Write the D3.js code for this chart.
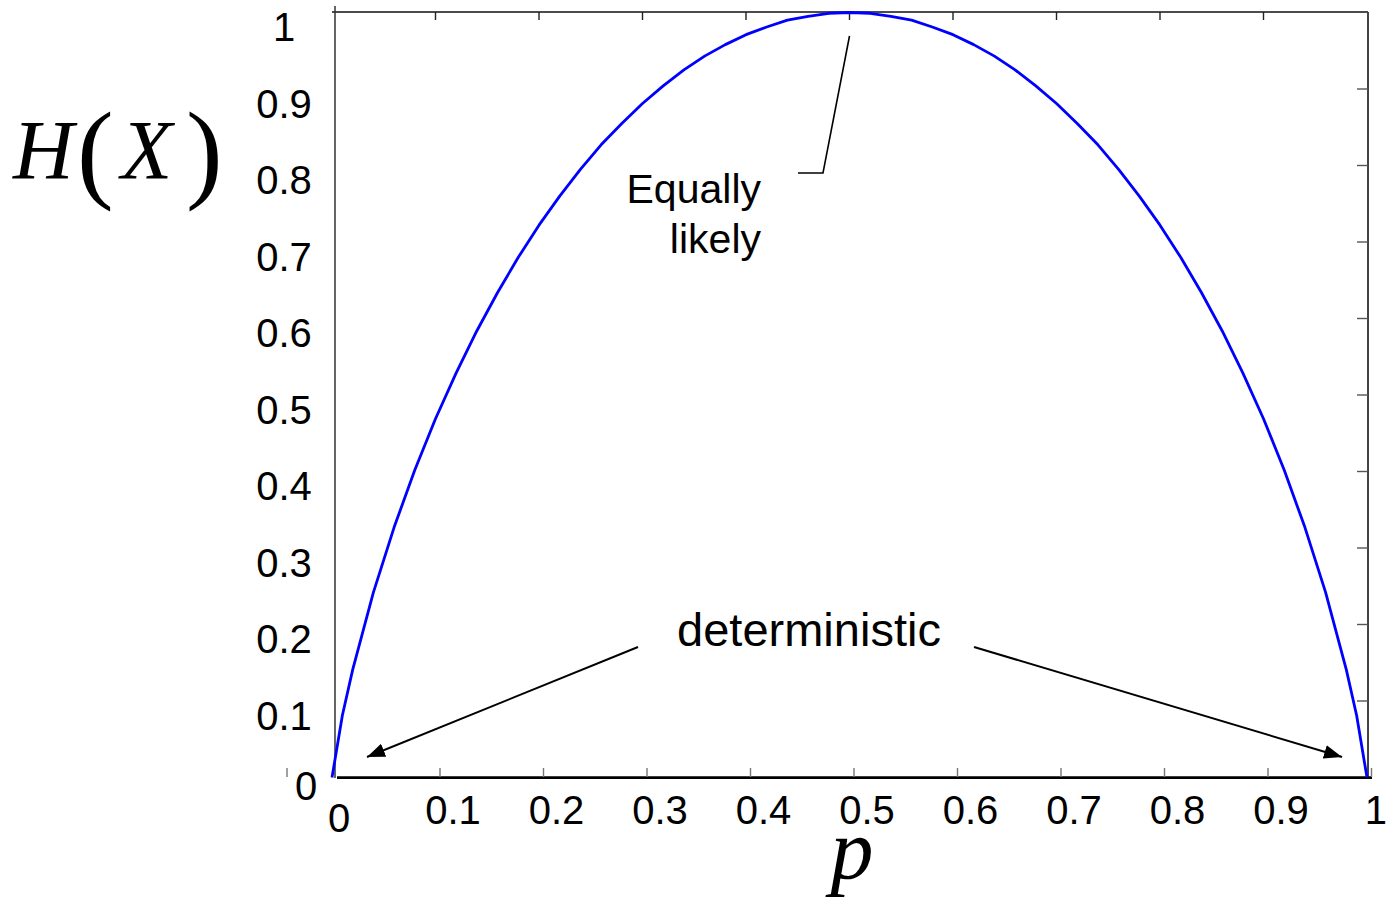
<!DOCTYPE html>
<html>
<head>
<meta charset="utf-8">
<script src="https://cdn.jsdelivr.net/npm/d3@7"></script>
<style>
  body { margin: 0; background: #fff; }
  svg { display: block; }
</style>
</head>
<body>
<script>
// values
var pValues = [0, 0.01, 0.02, 0.04, 0.06, 0.08, 0.10, 0.12, 0.14, 0.16, 0.18, 0.20,
  0.22, 0.24, 0.26, 0.28, 0.30, 0.32, 0.34, 0.36, 0.38, 0.40, 0.42, 0.44, 0.46, 0.48,
  0.50, 0.52, 0.54, 0.56, 0.58, 0.60, 0.62, 0.64, 0.66, 0.68, 0.70, 0.72, 0.74, 0.76,
  0.78, 0.80, 0.82, 0.84, 0.86, 0.88, 0.90, 0.92, 0.94, 0.96, 0.98, 0.99, 1];
var hValues = [0, 0.081, 0.141, 0.242, 0.327, 0.402, 0.469, 0.529, 0.584, 0.634, 0.680, 0.722,
  0.760, 0.795, 0.827, 0.855, 0.881, 0.904, 0.925, 0.943, 0.958, 0.971, 0.981, 0.990, 0.995, 0.999,
  1.000, 0.999, 0.995, 0.990, 0.981, 0.971, 0.958, 0.943, 0.925, 0.904, 0.881, 0.855, 0.827, 0.795,
  0.760, 0.722, 0.680, 0.634, 0.584, 0.529, 0.469, 0.402, 0.327, 0.242, 0.141, 0.081, 0];

var xTicks = [0, 0.1, 0.2, 0.3, 0.4, 0.5, 0.6, 0.7, 0.8, 0.9, 1];
var xTickLabels = ["0", "0.1", "0.2", "0.3", "0.4", "0.5", "0.6", "0.7", "0.8", "0.9", "1"];
var yTicks = [0, 0.1, 0.2, 0.3, 0.4, 0.5, 0.6, 0.7, 0.8, 0.9, 1];
var yTickLabels = ["0", "0.1", "0.2", "0.3", "0.4", "0.5", "0.6", "0.7", "0.8", "0.9", "1"];

var peakNote = ["Equally", "likely"];
var edgeNote = "deterministic";

//canvas
var width = 1387, height = 897;
var sans = "'Liberation Sans', Arial, sans-serif";
var serif = "'Liberation Serif', 'Times New Roman', serif";

var svg = d3.select("body").append("svg")
  .attr("width", width)
  .attr("height", height);

// scales (the frame is a little skewed in the original, so the bottom ticks sit a bit right)
var x = d3.scaleLinear().domain([0, 1]).range([332, 1367]);
var xBottom = d3.scaleLinear().domain([0, 1]).range([336.5, 1371.5]);
var y = d3.scaleLinear().domain([0, 1]).range([777.5, 12.5]);

var frame = svg.append("g");

// top border + ticks
frame.append("line")
  .attr("x1", 332).attr("x2", 1368).attr("y1", 12).attr("y2", 12)
  .style("stroke", "#111").style("stroke-width", 1.6);
frame.selectAll(".ttick")
  .data(xTicks.slice(1, -1))
  .enter().append("line")
  .attr("x1", d => x(d)).attr("x2", d => x(d))
  .attr("y1", 12).attr("y2", 20)
  .style("stroke", "#222").style("stroke-width", 1.4);

// left border
frame.append("line")
  .attr("x1", 335).attr("x2", 335).attr("y1", 6).attr("y2", 778)
  .style("stroke", "#333").style("stroke-width", 1.5);

// right border + ticks
frame.append("line")
  .attr("x1", 1368).attr("x2", 1368).attr("y1", 12).attr("y2", 778)
  .style("stroke", "#444").style("stroke-width", 2);
frame.selectAll(".rtick")
  .data(yTicks.slice(1, -1))
  .enter().append("line")
  .attr("x1", 1357).attr("x2", 1368)
  .attr("y1", d => y(d)).attr("y2", d => y(d))
  .style("stroke", "#555").style("stroke-width", 1.4);

// bottom axis
frame.append("line")
  .attr("x1", 337).attr("x2", 1372).attr("y1", 777.7).attr("y2", 777.7)
  .style("stroke", "#000").style("stroke-width", 2.8);
frame.selectAll(".btick")
  .data(xTicks.slice(1))
  .enter().append("line")
  .attr("x1", d => xBottom(d)).attr("x2", d => xBottom(d))
  .attr("y1", 768).attr("y2", 777)
  .style("stroke", "#777").style("stroke-width", 1.4);
frame.append("line")
  .attr("x1", 287).attr("x2", 287).attr("y1", 768).attr("y2", 777)
  .style("stroke", "#777").style("stroke-width", 1.4);

// tick labels
var last = xTicks.length - 1;
svg.append("g").selectAll("text")
  .data(xTicks)
  .enter().append("text")
  .attr("x", (d, i) => i === 0 ? 339 : (i === last ? 1387 : xBottom(d) + 13))
  .attr("y", (d, i) => i === 0 ? 832 : 824)
  .attr("text-anchor", (d, i) => i === last ? "end" : "middle")
  .style("font-family", sans).style("font-size", "40px")
  .text((d, i) => xTickLabels[i]);

svg.append("g").selectAll("text")
  .data(yTicks)
  .enter().append("text")
  .attr("x", (d, i) => i === 0 ? 306 : 284)
  .attr("y", (d, i) => i === 0 ? 800 : y(d) + 28.5)
  .attr("text-anchor", "middle")
  .style("font-family", sans).style("font-size", "40px")
  .text((d, i) => yTickLabels[i]);

// the curve
var line = d3.line()
  .x((d, i) => x(pValues[i]))
  .y(d => y(d));

svg.append("path")
  .datum(hValues)
  .attr("d", line)
  .style("fill", "none")
  .style("stroke", "#0000ff")
  .style("stroke-width", 2.8)
  .style("stroke-linejoin", "round");

// axis titles
var hx = svg.append("g").style("font-family", serif);
hx.append("text").attr("x", 13).attr("y", 179)
  .style("font-style", "italic").style("font-size", "84px").text("H");
hx.append("text").attr("x", 77).attr("y", 188)
  .style("font-size", "110px").text("(");
hx.append("text").attr("x", 121).attr("y", 179)
  .style("font-style", "italic").style("font-size", "84px").text("X");
hx.append("text").attr("x", 186).attr("y", 188)
  .style("font-size", "110px").text(")");

svg.append("text")
  .attr("x", 852).attr("y", 878)
  .attr("text-anchor", "middle")
  .style("font-family", serif).style("font-style", "italic").style("font-size", "86px")
  .text("p");

// annotations
svg.append("defs").append("marker")
  .attr("id", "head")
  .attr("viewBox", "0 0 18 14")
  .attr("refX", 18).attr("refY", 7)
  .attr("markerUnits", "userSpaceOnUse")
  .attr("markerWidth", 18).attr("markerHeight", 14)
  .attr("orient", "auto")
  .append("path").attr("d", "M0,0 L18,7 L0,14 Z").style("fill", "#000");

svg.append("polyline")
  .attr("points", [[x(0.5), 36], [823, 173], [798, 173]].join(" "))
  .style("fill", "none").style("stroke", "#000").style("stroke-width", 1.6);

svg.append("g").selectAll("text")
  .data(peakNote)
  .enter().append("text")
  .attr("x", 761)
  .attr("y", (d, i) => 203 + i * 50)
  .attr("text-anchor", "end")
  .style("font-family", sans).style("font-size", "41px")
  .text(d => d);

svg.append("text")
  .attr("x", 809).attr("y", 646)
  .attr("text-anchor", "middle")
  .style("font-family", sans).style("font-size", "47px")
  .text(edgeNote);

svg.append("line")
  .attr("x1", 638).attr("y1", 647).attr("x2", 367).attr("y2", 757)
  .attr("marker-end", "url(#head)")
  .style("stroke", "#000").style("stroke-width", 2);
svg.append("line")
  .attr("x1", 974).attr("y1", 647).attr("x2", 1342).attr("y2", 757)
  .attr("marker-end", "url(#head)")
  .style("stroke", "#000").style("stroke-width", 2);
</script>
</body>
</html>
